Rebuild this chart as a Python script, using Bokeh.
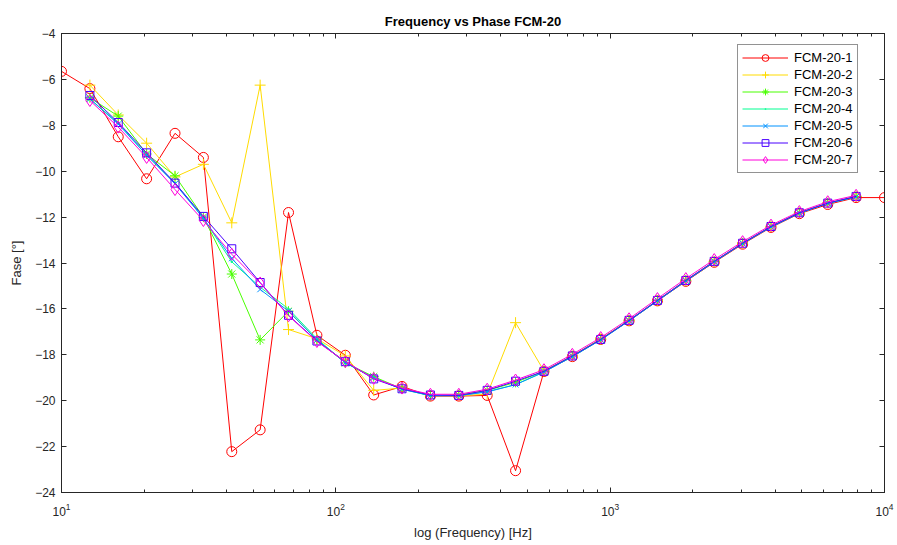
from bokeh.plotting import figure
from bokeh.models import Range1d, FixedTicker, LogAxis, LinearAxis, Legend, LegendItem
from bokeh.embed import file_html
from bokeh.resources import INLINE

# ---- data ----
freq = [10.0, 12.69, 16.10, 20.43, 25.93, 32.90, 41.75, 52.98, 67.23, 85.32,
        108.3, 137.4, 174.3, 221.2, 280.7, 356.2, 452.0, 573.6, 727.9, 923.7,
        1172.0, 1487.0, 1887.0, 2395.0, 3039.0, 3857.0, 4894.0, 6210.0, 7880.0, 10000.0]
freq_sub = freq[1:29]

fcm_1 = [-5.65, -6.4, -8.5, -10.33, -8.35, -9.4, -22.22, -21.27, -11.8, -17.15,
         -18.02, -19.75, -19.38, -19.8, -19.8, -19.77, -23.05, -18.73, -18.08, -17.33,
         -16.52, -15.65, -14.8, -13.97, -13.18, -12.45, -11.85, -11.45, -11.15, -11.15]
fcm_2 = [-6.25, -7.55, -8.78, -10.25, -9.7, -12.25, -6.25, -16.9, -17.3, -18.05,
         -19.55, -19.45, -19.78, -19.78, -19.72, -16.6, -18.7, -18.05, -17.3, -16.5,
         -15.63, -14.76, -13.93, -13.14, -12.41, -11.81, -11.39, -11.1]
fcm_3 = [-6.8, -7.6, -9.25, -10.2, -12.0, -14.48, -17.35, -16.1, -17.35, -18.35,
         -18.95, -19.48, -19.78, -19.75, -19.55, -19.2, -18.72, -18.05, -17.33, -16.5,
         -15.63, -14.76, -13.93, -13.14, -12.41, -11.81, -11.39, -11.1]
fcm_4 = [-6.85, -7.9, -9.3, -10.5, -12.05, -13.95, -15.05, -16.0, -17.3, -18.35,
         -19.0, -19.5, -19.78, -19.78, -19.6, -19.3, -18.75, -18.08, -17.35, -16.52,
         -15.65, -14.78, -13.95, -13.15, -12.43, -11.82, -11.4, -11.12]
fcm_5 = [-6.85, -7.95, -9.3, -10.55, -12.05, -13.8, -15.15, -16.1, -17.35, -18.35,
         -19.0, -19.5, -19.78, -19.78, -19.62, -19.3, -18.75, -18.08, -17.35, -16.52,
         -15.65, -14.78, -13.95, -13.15, -12.43, -11.83, -11.4, -11.12]
fcm_6 = [-6.7, -7.88, -9.2, -10.52, -11.97, -13.38, -14.85, -16.28, -17.4, -18.3,
         -19.05, -19.48, -19.75, -19.77, -19.55, -19.15, -18.72, -18.05, -17.33, -16.5,
         -15.63, -14.76, -13.93, -13.14, -12.41, -11.81, -11.39, -11.1]
fcm_7 = [-6.92, -8.08, -9.4, -10.8, -12.15, -13.62, -14.87, -16.3, -17.42, -18.3,
         -19.03, -19.45, -19.72, -19.72, -19.5, -19.1, -18.65, -17.98, -17.25, -16.43,
         -15.55, -14.68, -13.85, -13.07, -12.35, -11.76, -11.33, -11.05]

labels = ["FCM-20-1", "FCM-20-2", "FCM-20-3", "FCM-20-4", "FCM-20-5", "FCM-20-6", "FCM-20-7"]
x_ticks = [10, 100, 1000, 10000]
y_ticks = [-24, -22, -20, -18, -16, -14, -12, -10, -8, -6, -4]

series = [
    (freq, fcm_1, "#FF0000", "circle", 10),
    (freq_sub, fcm_2, "#FFDB00", "cross", 11),
    (freq_sub, fcm_3, "#49FF00", "asterisk", 10),
    (freq_sub, fcm_4, "#00FF92", "dot", 10),
    (freq_sub, fcm_5, "#0092FF", "x", 8),
    (freq_sub, fcm_6, "#4900FF", "square", 8),
    (freq_sub, fcm_7, "#FF00DB", "diamond", 12),
]

FONT = "Liberation Sans"
DARK = "#262626"

p = figure(width=897, height=545, x_axis_type="log",
           x_range=Range1d(10, 10000), y_range=Range1d(-24, -4),
           output_backend="svg", toolbar_location=None,
           min_border_left=61, min_border_right=13, min_border_top=33, min_border_bottom=53)

p.title.text = "Frequency vs Phase FCM-20"
p.title.align = "center"
p.title.text_font = FONT
p.title.text_font_size = "13px"
p.title.text_font_style = "bold"
p.title.text_color = "#000000"

p.xgrid.visible = False
p.ygrid.visible = False
p.outline_line_color = DARK

minor = [m * d for d in (10, 100, 1000) for m in range(2, 10)]
xt = FixedTicker(ticks=x_ticks, minor_ticks=minor)
yt = FixedTicker(ticks=y_ticks)

def style(ax):
    ax.axis_line_color = DARK
    ax.major_tick_line_color = DARK
    ax.minor_tick_line_color = DARK
    ax.major_tick_in = 5
    ax.major_tick_out = 0
    ax.minor_tick_in = 3
    ax.minor_tick_out = 0
    ax.major_label_text_font = FONT
    ax.major_label_text_font_size = "12px"
    ax.major_label_text_color = DARK
    ax.axis_label_text_font = FONT
    ax.axis_label_text_font_size = "13px"
    ax.axis_label_text_font_style = "normal"
    ax.axis_label_text_color = DARK

p.xaxis.ticker = xt
p.yaxis.ticker = yt
style(p.xaxis[0])
style(p.yaxis[0])
p.xaxis.axis_label = "log (Frequency) [Hz]"
p.yaxis.axis_label = "Fase [°]"
p.xaxis.major_label_standoff = 10
p.yaxis.major_label_standoff = 6
p.yaxis.axis_label_standoff = 8
p.xaxis.axis_label_standoff = 6
p.yaxis.minor_tick_in = 0

top = LogAxis(ticker=xt)
style(top)
top.major_label_text_font_size = "1px"
top.major_label_text_color = None
top.major_label_standoff = 0
p.add_layout(top, "above")
right = LinearAxis(ticker=yt)
style(right)
right.minor_tick_in = 0
right.major_label_text_font_size = "1px"
right.major_label_text_color = None
right.major_label_standoff = 0
p.add_layout(right, "right")

items = []
for (xs, ys, color, marker, size), lab in zip(series, labels):
    r1 = p.line(xs, ys, line_color=color, line_width=1)
    r2 = p.scatter(xs, ys, marker=marker, size=size, line_color=color,
                   fill_color=(color if marker == "dot" else None), line_width=1)
    items.append(LegendItem(label=lab, renderers=[r1, r2]))

legend = Legend(items=items, location=(676, 319))
legend.label_text_font = FONT
legend.label_text_font_size = "13px"
legend.label_text_color = "#000000"
legend.border_line_color = DARK
legend.border_line_width = 1
legend.glyph_width = 46
legend.glyph_height = 17
legend.label_height = 17
legend.spacing = 0
legend.padding = 4
legend.margin = 0
legend.label_standoff = 6
p.add_layout(legend, "center")

open("out.html", "w").write(file_html(p, INLINE))
